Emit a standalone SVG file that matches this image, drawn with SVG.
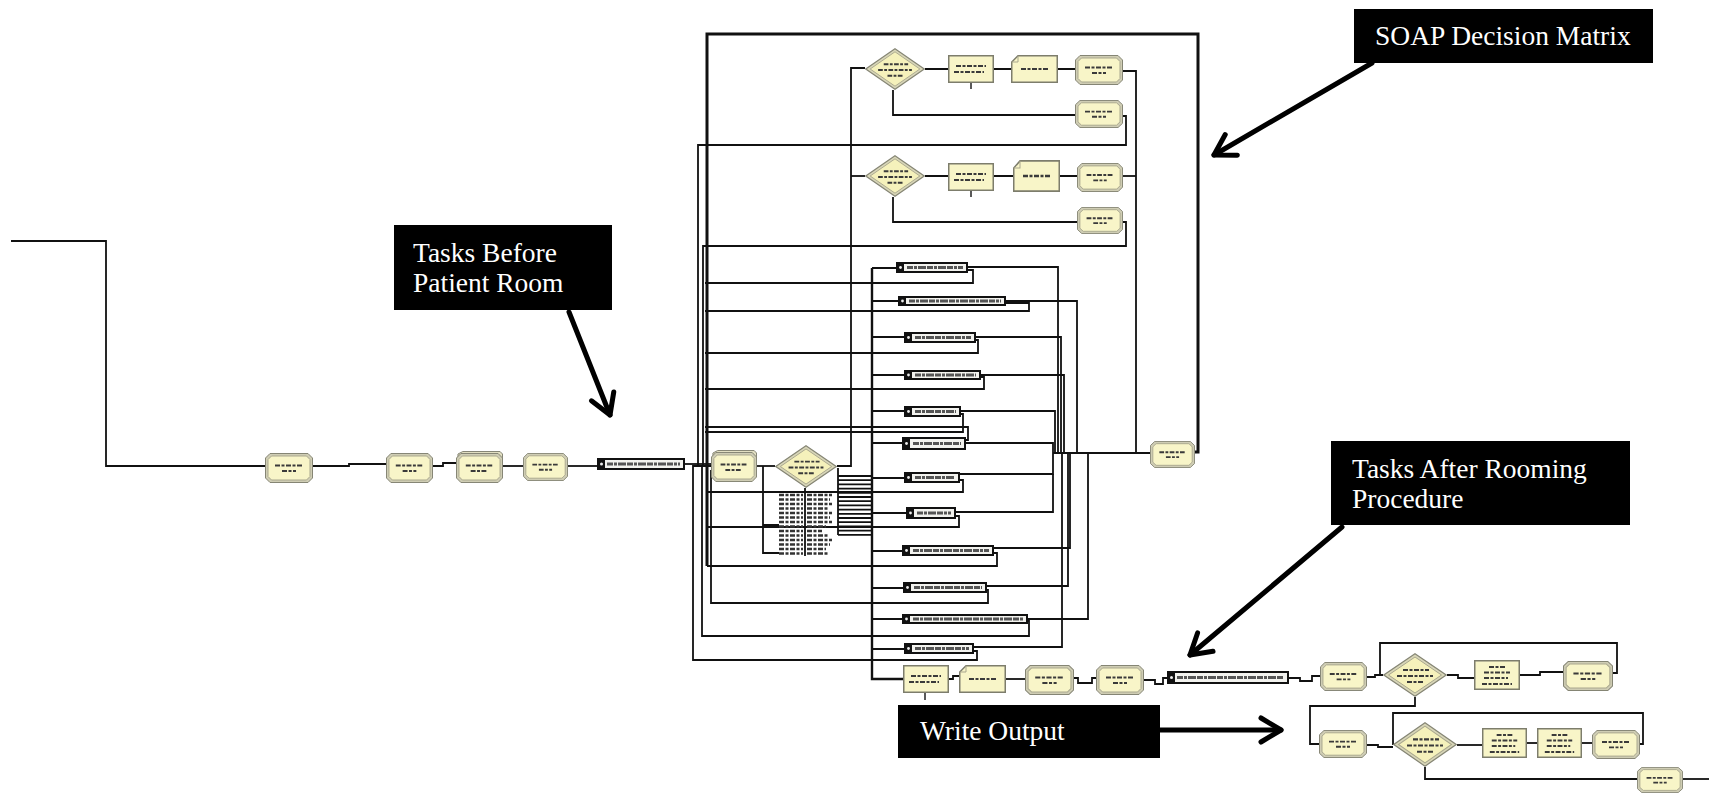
<svg xmlns="http://www.w3.org/2000/svg" xmlns:xlink="http://www.w3.org/1999/xlink" width="1709" height="796" viewBox="0 0 1709 796">
<style>
.wire{fill:none;stroke:#111;stroke-width:1.8}
.bus{fill:none;stroke:#111;stroke-width:3}
.bar{fill:#f2f2ee;stroke:#111;stroke-width:2}
.cap{fill:#111}
.dot{fill:#eee}
.ink{stroke:#3a3a3a;stroke-width:2;stroke-dasharray:5 1.5 3 1.5;fill:none}
.bink{stroke:#555;stroke-width:3;stroke-dasharray:6 1 3 1 8 1;fill:none}
.tick{stroke:#222;stroke-width:1.5}
.note{fill:#000}
.ntext{font-family:"Liberation Serif","Times New Roman",serif;font-size:27.5px;fill:#fff}
.pointer{fill:none;stroke:#000;stroke-width:5;stroke-linecap:round}
</style>
<defs>
  <marker id="vhead" markerUnits="userSpaceOnUse" markerWidth="34" markerHeight="34" refX="25" refY="15" orient="auto" viewBox="0 0 34 30">
    <path d="M5,3 L25,15 L5,27" fill="none" stroke="#000" stroke-width="5" stroke-linecap="round" stroke-linejoin="round"/>
  </marker>
  <!-- record / dispose style block with bevelled corners -->
  <symbol id="oct" viewBox="0 0 48 30" preserveAspectRatio="none">
    <polygon points="5,0.5 43,0.5 47.5,5 47.5,25 43,29.5 5,29.5 0.5,25 0.5,5" fill="#cfcdb4" stroke="#858574" stroke-width="1"/>
    <polygon points="6.5,3 41.5,3 45,6.5 45,23.5 41.5,27 6.5,27 3,23.5 3,6.5" fill="#f8f5c8" stroke="#a9a78e" stroke-width="1"/>
    <line class="ink" x1="10" y1="12.5" x2="38" y2="12.5"/>
    <line class="ink" x1="17" y1="18" x2="31" y2="18"/>
  </symbol>
  <!-- same block drawn as a stack -->
  <symbol id="octstack" viewBox="0 0 48 32" preserveAspectRatio="none">
    <polygon points="7,0.5 45,0.5 47.5,3 47.5,8 2,8 2,3" fill="#e2dfc2" stroke="#858574" stroke-width="1"/>
    <polygon points="5,2.5 43,2.5 47.5,7 47.5,27 43,31.5 5,31.5 0.5,27 0.5,7" fill="#cfcdb4" stroke="#858574" stroke-width="1"/>
    <polygon points="6.5,5 41.5,5 45,8.5 45,25.5 41.5,29 6.5,29 3,25.5 3,8.5" fill="#f8f5c8" stroke="#a9a78e" stroke-width="1"/>
    <line class="ink" x1="10" y1="14.5" x2="38" y2="14.5"/>
    <line class="ink" x1="15" y1="20" x2="31" y2="20"/>
  </symbol>
  <!-- process block -->
  <symbol id="proc" viewBox="0 0 46 28" preserveAspectRatio="none">
    <rect x="0.75" y="0.75" width="44.5" height="26.5" fill="#f8f5c8" stroke="#7d7d6c" stroke-width="1.5"/>
    <line class="ink" x1="8" y1="11" x2="38" y2="11"/>
    <line class="ink" x1="6" y1="17" x2="36" y2="17"/>
  </symbol>
  <!-- process block with a longer name -->
  <symbol id="proc3" viewBox="0 0 46 30" preserveAspectRatio="none">
    <rect x="0.75" y="0.75" width="44.5" height="28.5" fill="#f8f5c8" stroke="#7d7d6c" stroke-width="1.5"/>
    <line class="ink" x1="15" y1="7" x2="31" y2="7"/>
    <line class="ink" x1="10" y1="12.5" x2="36" y2="12.5"/>
    <line class="ink" x1="10" y1="18" x2="34" y2="18"/>
    <line class="ink" x1="8" y1="24" x2="38" y2="24"/>
  </symbol>
  <!-- assign block with folded corner -->
  <symbol id="assign" viewBox="0 0 47 28" preserveAspectRatio="none">
    <polygon points="7,0.75 46.25,0.75 46.25,27.25 0.75,27.25 0.75,7" fill="#f8f5c8" stroke="#7d7d6c" stroke-width="1.5"/>
    <polyline points="7,0.75 7,7 0.75,7" fill="none" stroke="#a9a78e" stroke-width="1"/>
    <line class="ink" x1="10" y1="14" x2="38" y2="14"/>
  </symbol>
  <!-- decide block -->
  <symbol id="dec" viewBox="0 0 64 44" preserveAspectRatio="none">
    <polygon points="32,0.8 63.2,22 32,43.2 0.8,22" fill="#d8d6b8" stroke="#858574" stroke-width="1.2"/>
    <polygon points="32,4 58.5,22 32,40 5.5,22" fill="#f5f1bb" stroke="#a9a78e" stroke-width="1"/>
    <line class="ink" x1="20" y1="17" x2="46" y2="17"/>
    <line class="ink" x1="14" y1="23" x2="50" y2="23"/>
    <line class="ink" x1="24" y1="29" x2="40" y2="29"/>
  </symbol>
</defs>

<rect width="1709" height="796" fill="#fff"/>

<!-- connectors -->
<g id="connectors">
  <!-- arrival and front-desk chain -->
  <path class="wire" d="M11,241 H106 V466 H265"/>
  <path class="wire" d="M313,466 H349 V464 H386"/>
  <path class="wire" d="M433,466 H443 V463 H456"/>
  <path class="wire" d="M503,466 H523"/>
  <path class="wire" d="M568,466 H598"/>
  <path class="wire" d="M684,464 H711"/>
  <path class="wire" d="M757,466 H775"/>

  <!-- decide output up to the two upper decisions -->
  <path class="wire" d="M837,466 H851 V68 H865"/>
  <path class="wire" d="M851,176 H865"/>

  <!-- upper decision branches -->
  <path class="wire" d="M925,69 H948 M994,69 H1011 M1058,69 H1075"/>
  <path class="wire" d="M1123,71 H1136 V453 H1150"/>
  <path class="wire" d="M893,90 V115 H1075"/>
  <path class="wire" d="M1123,116 H1126 V145 H698 V466"/>
  <path class="wire" d="M925,176 H948 M994,176 H1013 M1060,176 H1077"/>
  <path class="wire" d="M1123,176 H1136"/>
  <path class="wire" d="M893,197 V222 H1077"/>
  <path class="wire" d="M1123,222 H1126 V246 H703 V466"/>

  <!-- outer loop back to the rooming step -->
  <path class="bus" d="M1195,452 H1198 V34 H707 V566"/>

  <!-- feed bus for the route blocks and the after-rooming chain -->
  <path class="bus" d="M872,268 V679 H903" style="stroke-width:2.4"/>
  <path class="wire" d="M872,268 H897 M872,301 H899 M872,337 H905 M872,375 H905 M872,411 H905 M872,443 H903 M872,478 H905 M872,513 H907 M872,551 H903 M872,588 H904 M872,619 H903 M872,649 H905"/>

  <!-- route outputs to the collector -->
  <path class="wire" d="M967,267 H1058 V453"/>
  <path class="wire" d="M1005,301 H1077 V453"/>
  <path class="wire" d="M975,337 H1061 V453"/>
  <path class="wire" d="M980,375 H1064 V453"/>
  <path class="wire" d="M960,411 H1055 V453"/>
  <path class="wire" d="M965,443 H1053 V453"/>
  <path class="wire" d="M959,474 H1053 V453"/>
  <path class="wire" d="M955,512 H1053 V474"/>
  <path class="wire" d="M993,548 H1070 V453"/>
  <path class="wire" d="M986,586 H1068 V453"/>
  <path class="wire" d="M1027,619 H1088 V453"/>
  <path class="wire" d="M973,647 H1062 V453"/>
  <path class="wire" d="M1053,453 H1150"/>

  <!-- route returns to the left bus -->
  <path class="wire" d="M967,270 H973 V283 H705"/>
  <path class="wire" d="M1005,303 H1029 V311 H705"/>
  <path class="wire" d="M975,340 H978 V353 H705"/>
  <path class="wire" d="M980,377 H984 V389 H705"/>
  <path class="wire" d="M960,414 H963 V432 H705"/>
  <path class="wire" d="M965,440 H968 V427 H705"/>
  <path class="wire" d="M959,480 H963 V492 H707"/>
  <path class="wire" d="M955,516 H959 V527 H707"/>
  <path class="wire" d="M993,553 H997 V566 H707"/>
  <path class="wire" d="M986,590 H988 V603 H711 V470"/>
  <path class="wire" d="M1027,621 H1029 V636 H702 V466"/>
  <path class="wire" d="M973,651 H977 V660 H693 V466 H711"/>

  <!-- decision table outputs -->
  <path class="wire" d="M763,466 V553 H779 M763,525 H779 M805,488 V556"/>
  <path class="wire" d="M838,468 V535"/>
  <path class="wire" d="M838,476 H872 M838,480.2 H872 M838,484.4 H872 M838,488.6 H872 M838,492.8 H872 M838,497 H872 M838,501.2 H872 M838,505.4 H872 M838,509.6 H872 M838,513.8 H872 M838,518 H872 M838,522.2 H872 M838,526.4 H872 M838,530.6 H872 M838,534.8 H872"/>

  <!-- after-rooming chain -->
  <path class="wire" d="M949,679 H953 V676 H959"/>
  <path class="wire" d="M1006,679 H1025"/>
  <path class="wire" d="M1074,678 H1078 V683 H1092 V678 H1096"/>
  <path class="wire" d="M1144,680 H1155 V684 H1163 V678 H1168"/>
  <path class="wire" d="M1288,678 H1300 V681 H1312 V676 H1320"/>
  <path class="wire" d="M1367,677 H1375 V675 H1383"/>
  <path class="wire" d="M1447,675 H1458 V678 H1474"/>
  <path class="wire" d="M1520,675 H1540 V672 H1563"/>
  <path class="wire" d="M1613,673 H1617 V643 H1380 V675 H1383"/>
  <path class="wire" d="M1415,697 V706 H1310 V744 H1319"/>
  <path class="wire" d="M1367,745 H1378 V747 H1393"/>
  <path class="wire" d="M1457,745 H1482"/>
  <path class="wire" d="M1527,743 H1537"/>
  <path class="wire" d="M1582,743 H1592"/>
  <path class="wire" d="M1640,744 H1643 V713 H1393 V745"/>
  <path class="wire" d="M1425,767 V779 H1637"/>
  <path class="wire" d="M1683,779 H1709"/>
</g>

<!-- front desk chain -->
<g id="n-arrive"><use xlink:href="#oct" x="265" y="453" width="48" height="30"/></g>
<g id="n-checkin"><use xlink:href="#oct" x="386" y="453" width="47" height="30"/></g>
<g id="n-wait"><use xlink:href="#octstack" x="456" y="451" width="47" height="32"/></g>
<g id="n-call"><use xlink:href="#oct" x="523" y="453" width="45" height="28"/></g>
<g id="n-route-room">
  <rect class="bar" x="598" y="459" width="86" height="10"/>
  <rect class="cap" x="598" y="459" width="7" height="10"/>
  <circle class="dot" cx="601.5" cy="464" r="1.5"/>
  <line class="bink" x1="607" y1="464" x2="680" y2="464"/>
</g>
<g id="n-rooming"><use xlink:href="#octstack" x="711" y="450" width="46" height="32"/></g>
<g id="n-decide-main"><use xlink:href="#dec" x="775" y="445" width="62" height="43"/></g>
<g id="n-decide-table">
  <path class="ink" style="stroke-width:2.4;stroke:#333" d="M779,495 H803 M807,495 H832 M779,499.5 H803 M807,499.5 H830 M779,504 H803 M807,504 H832 M779,508.5 H803 M807,508.5 H828 M779,513 H803 M807,513 H832 M779,517.5 H803 M807,517.5 H830 M779,522 H803 M807,522 H832 M779,526.5 H803 M807,526.5 H826 M779,531 H803 M807,531 H822 M779,535.5 H803 M807,535.5 H828 M779,540 H803 M807,540 H832 M779,544.5 H803 M807,544.5 H830 M779,549 H803 M807,549 H826 M779,553.5 H803 M807,553.5 H828"/>
</g>

<!-- SOAP decision blocks -->
<g id="n-soap-d1"><use xlink:href="#dec" x="865" y="48" width="60" height="42"/></g>
<g id="n-soap-p1"><use xlink:href="#proc" x="948" y="55" width="46" height="28"/><line class="tick" x1="971" y1="83" x2="971" y2="89"/></g>
<g id="n-soap-a1"><use xlink:href="#assign" x="1011" y="55" width="47" height="28"/></g>
<g id="n-soap-r1"><use xlink:href="#oct" x="1075" y="55" width="48" height="30"/></g>
<g id="n-soap-r1b"><use xlink:href="#oct" x="1075" y="100" width="48" height="28"/></g>
<g id="n-soap-d2"><use xlink:href="#dec" x="865" y="155" width="60" height="42"/></g>
<g id="n-soap-p2"><use xlink:href="#proc" x="948" y="163" width="46" height="28"/><line class="tick" x1="971" y1="191" x2="971" y2="197"/></g>
<g id="n-soap-a2"><use xlink:href="#assign" x="1013" y="160" width="47" height="32"/></g>
<g id="n-soap-r2"><use xlink:href="#oct" x="1077" y="163" width="46" height="29"/></g>
<g id="n-soap-r2b"><use xlink:href="#oct" x="1077" y="207" width="46" height="27"/></g>
<g id="n-collect"><use xlink:href="#oct" x="1150" y="441" width="45" height="27"/></g>

<!-- route blocks -->
<g id="n-route1"><rect class="bar" x="897" y="263" width="70" height="9"/><rect class="cap" x="897" y="263" width="7" height="9"/><circle class="dot" cx="900.5" cy="267.5" r="1.4"/><line class="bink" x1="907" y1="267.5" x2="963" y2="267.5"/></g>
<g id="n-route2"><rect class="bar" x="899" y="297" width="106" height="8"/><rect class="cap" x="899" y="297" width="7" height="8"/><circle class="dot" cx="902.5" cy="301" r="1.4"/><line class="bink" x1="909" y1="301" x2="1001" y2="301"/></g>
<g id="n-route3"><rect class="bar" x="905" y="333" width="70" height="9"/><rect class="cap" x="905" y="333" width="7" height="9"/><circle class="dot" cx="908.5" cy="337.5" r="1.4"/><line class="bink" x1="915" y1="337.5" x2="971" y2="337.5"/></g>
<g id="n-route4"><rect class="bar" x="905" y="371" width="75" height="8"/><rect class="cap" x="905" y="371" width="7" height="8"/><circle class="dot" cx="908.5" cy="375" r="1.4"/><line class="bink" x1="915" y1="375" x2="976" y2="375"/></g>
<g id="n-route5"><rect class="bar" x="905" y="407" width="55" height="9"/><rect class="cap" x="905" y="407" width="7" height="9"/><circle class="dot" cx="908.5" cy="411.5" r="1.4"/><line class="bink" x1="915" y1="411.5" x2="956" y2="411.5"/></g>
<g id="n-route6"><rect class="bar" x="903" y="438" width="62" height="11"/><rect class="cap" x="903" y="438" width="7" height="11"/><circle class="dot" cx="906.5" cy="443.5" r="1.4"/><line class="bink" x1="913" y1="443.5" x2="961" y2="443.5"/></g>
<g id="n-route7"><rect class="bar" x="905" y="473" width="54" height="9"/><rect class="cap" x="905" y="473" width="7" height="9"/><circle class="dot" cx="908.5" cy="477.5" r="1.4"/><line class="bink" x1="915" y1="477.5" x2="955" y2="477.5"/></g>
<g id="n-route8"><rect class="bar" x="907" y="508" width="48" height="10"/><rect class="cap" x="907" y="508" width="7" height="10"/><circle class="dot" cx="910.5" cy="513" r="1.4"/><line class="bink" x1="917" y1="513" x2="951" y2="513"/></g>
<g id="n-route9"><rect class="bar" x="903" y="546" width="90" height="9"/><rect class="cap" x="903" y="546" width="7" height="9"/><circle class="dot" cx="906.5" cy="550.5" r="1.4"/><line class="bink" x1="913" y1="550.5" x2="989" y2="550.5"/></g>
<g id="n-route10"><rect class="bar" x="904" y="583" width="82" height="9"/><rect class="cap" x="904" y="583" width="7" height="9"/><circle class="dot" cx="907.5" cy="587.5" r="1.4"/><line class="bink" x1="914" y1="587.5" x2="982" y2="587.5"/></g>
<g id="n-route11"><rect class="bar" x="903" y="615" width="124" height="8"/><rect class="cap" x="903" y="615" width="7" height="8"/><circle class="dot" cx="906.5" cy="619" r="1.4"/><line class="bink" x1="913" y1="619" x2="1023" y2="619"/></g>
<g id="n-route12"><rect class="bar" x="905" y="644" width="68" height="9"/><rect class="cap" x="905" y="644" width="7" height="9"/><circle class="dot" cx="908.5" cy="648.5" r="1.4"/><line class="bink" x1="915" y1="648.5" x2="969" y2="648.5"/></g>

<!-- after-rooming chain -->
<g id="n-after-p1"><use xlink:href="#proc" x="903" y="665" width="46" height="28"/><line class="tick" x1="925" y1="693" x2="925" y2="700"/></g>
<g id="n-after-a1"><use xlink:href="#assign" x="959" y="665" width="47" height="28"/></g>
<g id="n-after-r1"><use xlink:href="#oct" x="1025" y="665" width="49" height="30"/></g>
<g id="n-after-r2"><use xlink:href="#oct" x="1096" y="665" width="48" height="30"/></g>
<g id="n-route-post">
  <rect class="bar" x="1168" y="672" width="120" height="11"/>
  <rect class="cap" x="1168" y="672" width="7" height="11"/>
  <circle class="dot" cx="1171.5" cy="677.5" r="1.5"/>
  <line class="bink" x1="1177" y1="677.5" x2="1284" y2="677.5"/>
</g>
<g id="n-out-r1"><use xlink:href="#oct" x="1320" y="662" width="47" height="29"/></g>
<g id="n-out-d1"><use xlink:href="#dec" x="1383" y="653" width="64" height="44"/></g>
<g id="n-out-p1"><use xlink:href="#proc3" x="1474" y="660" width="46" height="30"/></g>
<g id="n-out-r2"><use xlink:href="#oct" x="1563" y="661" width="50" height="30"/></g>
<g id="n-out-r3"><use xlink:href="#oct" x="1319" y="730" width="48" height="28"/></g>
<g id="n-out-d2"><use xlink:href="#dec" x="1393" y="722" width="64" height="45"/></g>
<g id="n-out-p2"><use xlink:href="#proc3" x="1482" y="728" width="45" height="30"/></g>
<g id="n-out-p3"><use xlink:href="#proc3" x="1537" y="728" width="45" height="30"/></g>
<g id="n-out-r4"><use xlink:href="#oct" x="1592" y="730" width="48" height="29"/></g>
<g id="n-out-r5"><use xlink:href="#oct" x="1637" y="767" width="46" height="26"/></g>

<!-- callouts -->
<g id="callout-before">
  <rect class="note" x="394" y="225" width="218" height="85"/>
  <text class="ntext" x="413" y="262">Tasks Before</text>
  <text class="ntext" x="413" y="292">Patient Room</text>
  <line class="pointer" x1="569" y1="312" x2="610" y2="415" marker-end="url(#vhead)"/>
</g>
<g id="callout-soap">
  <rect class="note" x="1354" y="9" width="299" height="54"/>
  <text class="ntext" x="1375" y="45">SOAP Decision Matrix</text>
  <line class="pointer" x1="1372" y1="63" x2="1214" y2="155" marker-end="url(#vhead)"/>
</g>
<g id="callout-after">
  <rect class="note" x="1331" y="441" width="299" height="84"/>
  <text class="ntext" x="1352" y="478">Tasks After Rooming</text>
  <text class="ntext" x="1352" y="508">Procedure</text>
  <line class="pointer" x1="1342" y1="527" x2="1190" y2="655" marker-end="url(#vhead)"/>
</g>
<g id="callout-output">
  <rect class="note" x="898" y="705" width="262" height="53"/>
  <text class="ntext" x="920" y="740">Write Output</text>
  <line class="pointer" x1="1160" y1="730" x2="1281" y2="730" marker-end="url(#vhead)"/>
</g>
</svg>
